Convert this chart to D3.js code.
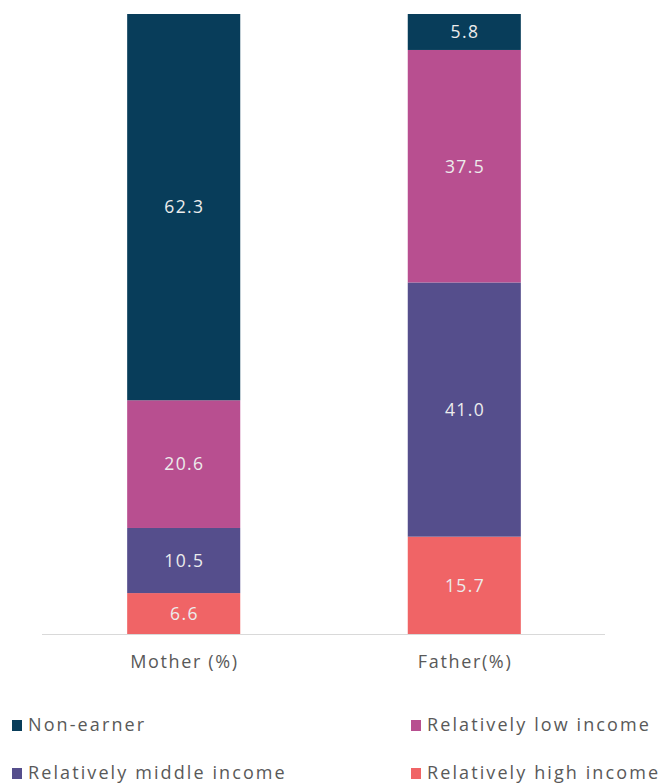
<!DOCTYPE html>
<html>
<head>
<meta charset="utf-8">
<script src="https://cdn.jsdelivr.net/npm/d3@7"></script>
<style>
  body { margin: 0; background: #fff; }
  svg text { font-family: "Open Sans", "DejaVu Sans", sans-serif; }
</style>
</head>
<body>
<div id="chart"></div>
<script>
// data
const groups = ["Mother (%)", "Father(%)"];
const seriesNames = ["Relatively high income", "Relatively middle income", "Relatively low income", "Non-earner"];
const highIncome = [6.6, 15.7];
const middleIncome = [10.5, 41.0];
const lowIncome = [20.6, 37.5];
const nonEarner = [62.3, 5.8];
const colors = ["#f06466", "#554e8c", "#b84f90", "#083d5a"];

const legendOrder = ["Non-earner", "Relatively low income", "Relatively middle income", "Relatively high income"];

const width = 659, height = 783;
const margin = {top: 14, left: 43, right: 54, bottom: 149};

const rows = groups.map((g, i) => ({
    group: g,
    "Relatively high income": highIncome[i],
    "Relatively middle income": middleIncome[i],
    "Relatively low income": lowIncome[i],
    "Non-earner": nonEarner[i]
}));

const stacked = d3.stack().keys(seriesNames)(rows);

const x = d3.scaleBand()
    .domain(groups)
    .range([margin.left, width - margin.right])
    .paddingInner(0.597)
    .paddingOuter(0.3);

const y = d3.scaleLinear()
    .domain([0, 100])
    .range([height - margin.bottom, margin.top]);

const color = d3.scaleOrdinal().domain(seriesNames).range(colors);

const svg = d3.select("#chart").append("svg")
    .attr("width", width)
    .attr("height", height);

const layer = svg.selectAll("g.layer")
    .data(stacked)
    .enter()
    .append("g")
    .attr("class", "layer")
    .attr("fill", d => color(d.key));

layer.selectAll("rect")
    .data(d => d)
    .enter()
    .append("rect")
    .attr("x", d => x(d.data.group))
    .attr("width", x.bandwidth())
    .attr("y", d => y(d[1]))
    .attr("height", d => y(d[0]) - y(d[1]));

// value labels
layer.selectAll("text")
    .data(d => d.map(v => Object.assign({key: d.key}, v)))
    .enter()
    .append("text")
    .attr("x", d => x(d.data.group) + x.bandwidth() / 2 + 0.7)
    .attr("y", d => (y(d[0]) + y(d[1])) / 2)
    .attr("dy", "0.36em")
    .attr("text-anchor", "middle")
    .attr("fill", "#ececec")
    .style("font-size", "17.5px")
    .style("letter-spacing", "1.4px")
    .text(d => (d[1] - d[0]).toFixed(1));

// axis line
svg.append("line")
    .attr("x1", margin.left - 1)
    .attr("x2", width - margin.right)
    .attr("y1", y(0) + 0.5)
    .attr("y2", y(0) + 0.5)
    .attr("stroke", "#d9d9d9")
    .attr("stroke-width", 1);

// category labels
svg.selectAll("text.cat")
    .data(groups)
    .enter()
    .append("text")
    .attr("class", "cat")
    .attr("x", d => x(d) + x.bandwidth() / 2 + 0.8)
    .attr("y", y(0) + 34)
    .attr("text-anchor", "middle")
    .attr("fill", "#595959")
    .style("font-size", "18px")
    .style("letter-spacing", "1.65px")
    .text(d => d);

// legend
const legendPos = [[12, 731], [411, 731], [12, 779], [411, 779]];
const legend = svg.selectAll("g.legend")
    .data(legendOrder)
    .enter()
    .append("g")
    .attr("class", "legend")
    .attr("transform", (d, i) => `translate(${legendPos[i][0]},${legendPos[i][1]})`);

legend.append("rect")
    .attr("x", 0)
    .attr("y", -11)
    .attr("width", 10)
    .attr("height", 11)
    .attr("fill", d => color(d));

legend.append("text")
    .attr("x", 16)
    .attr("y", 0)
    .attr("fill", "#595959")
    .style("font-size", "18px")
    .style("letter-spacing", "2.1px")
    .text(d => d);
</script>
</body>
</html>
